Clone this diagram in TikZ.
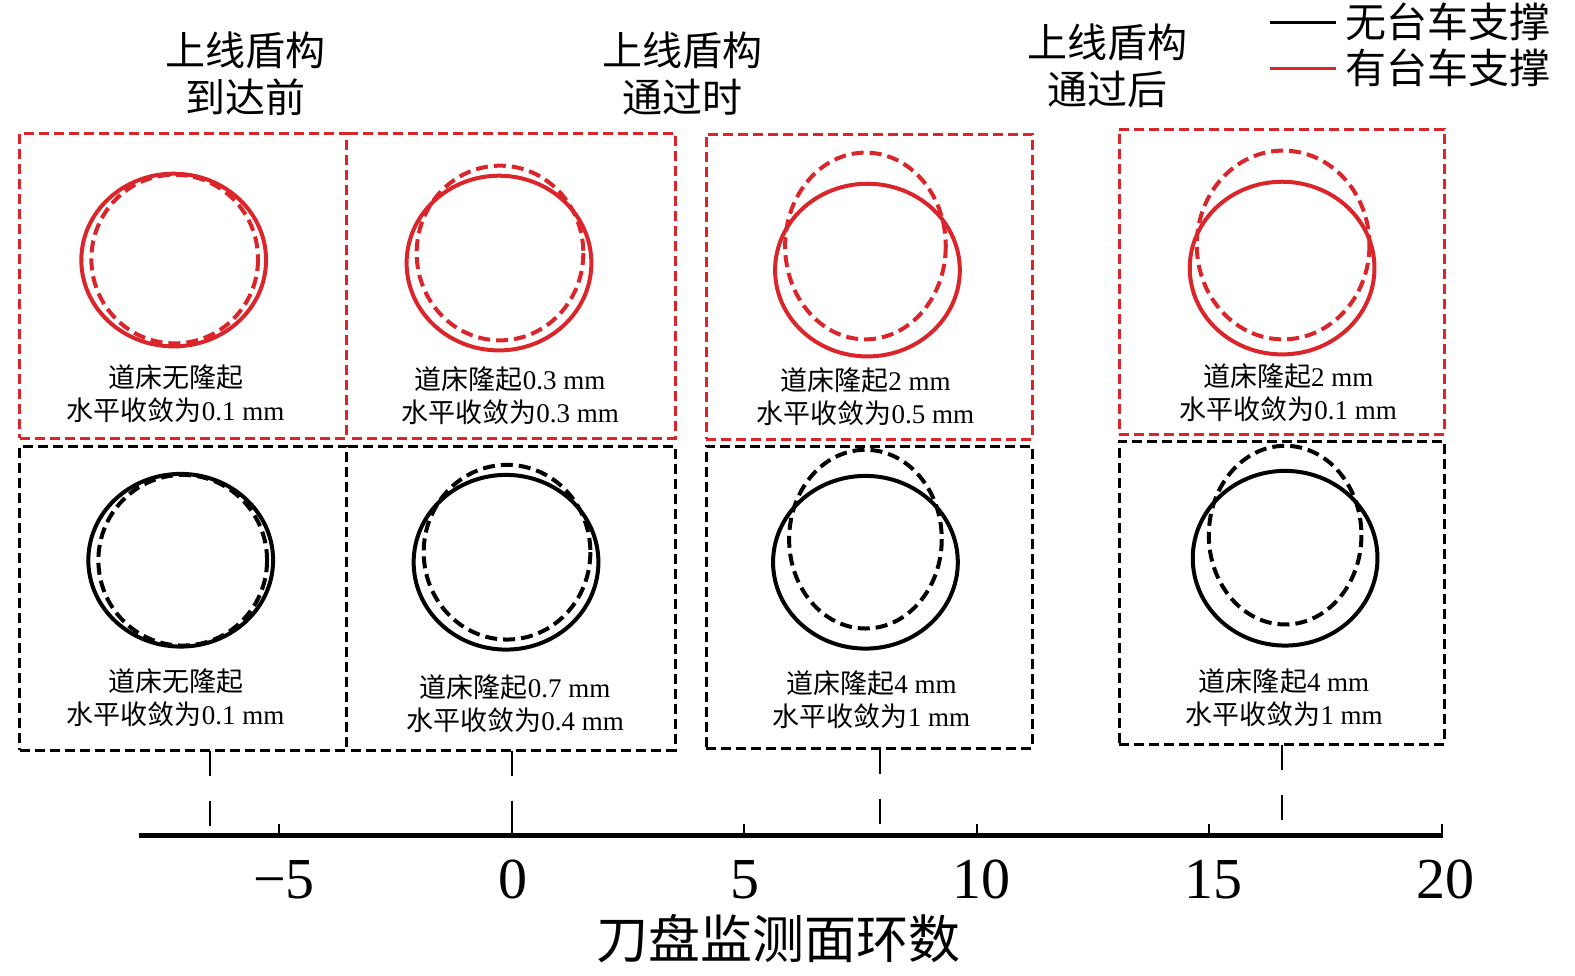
\documentclass[tikz,border=0pt]{standalone}
\usepackage{fontspec}
\setmainfont{Liberation Serif}
\newfontfamily\cjk{Noto Sans CJK SC}
\newcommand\zh[1]{{\cjk #1}}
\definecolor{myred}{RGB}{218,37,42}
\begin{document}
\begin{tikzpicture}[x=0.5bp,y=-0.5bp,
  boxbase/.style={line width=1.5bp, dash pattern=on 5bp off 2.5bp, inner sep=0pt, outer sep=0pt},
  redbox/.style={boxbase, draw=myred},
  blkbox/.style={boxbase, draw=black},
  openbox/.style={boxbase, draw=none},
  solidring/.style={line width=2bp},
  dashring/.style={line width=2bp, dash pattern=on 6bp off 3bp},
  boxlabel/.style={align=center, font=\fontsize{13.5bp}{16.5bp}\selectfont, inner sep=0pt},
  titlelabel/.style={align=center, font=\fontsize{20bp}{23.5bp}\selectfont, inner sep=0pt},
  legendtext/.style={anchor=west, font=\fontsize{20.5bp}{24bp}\selectfont, inner sep=0pt},
  ticklabel/.style={font=\fontsize{29bp}{32bp}\selectfont, inner sep=0pt},
  axistitle/.style={font=\fontsize{26bp}{30bp}\selectfont, inner sep=0pt},
  guide/.style={line width=1bp, dash pattern=on 12.5bp off 12.5bp},
  axisline/.style={line width=2.2bp},
  tickline/.style={line width=1bp}
]
\useasboundingbox (0,0) rectangle (1575,975);
\begin{scope}[scale=1.004]
% titles
\node[titlelabel] (t1) at (245,73) {\zh{上线盾构}\\\zh{到达前}};
\node[titlelabel] (t2) at (680,73) {\zh{上线盾构}\\\zh{通过时}};
\node[titlelabel] (t3) at (1103,66) {\zh{上线盾构}\\\zh{通过后}};

% legend
\coordinate (lk1) at (1265,22); \coordinate (lk2) at (1330,22);
\coordinate (lr1) at (1265,68); \coordinate (lr2) at (1330,68);
\draw[line width=1.5bp, black] (lk1) -- (lk2);
\draw[line width=1.5bp, myred] (lr1) -- (lr2);
\node[legendtext] (lgk) at (1340,22) {\zh{无台车支撑}};
\node[legendtext] (lgr) at (1340,68) {\zh{有台车支撑}};

% red boxes
\node[redbox, minimum width=163.5bp, minimum height=152.5bp] (rb1) at (182.5,284.5) {};
\node[openbox, minimum width=163.5bp, minimum height=152.5bp] (rb2) at (509.5,284.5) {};
\draw[redbox] (rb2.north west) -- (rb2.north east) -- (rb2.south east) -- (rb2.south west);
\node[redbox, minimum width=163bp, minimum height=152.5bp] (rb3) at (866,285.5) {};
\node[redbox, minimum width=162.5bp, minimum height=152.5bp] (rb4) at (1276.5,280.5) {};
% black boxes
\node[blkbox, minimum width=163.5bp, minimum height=152bp] (kb1) at (182.5,596) {};
\node[openbox, minimum width=163.5bp, minimum height=152bp] (kb2) at (509.5,596) {};
\draw[blkbox] (kb2.north west) -- (kb2.north east) -- (kb2.south east) -- (kb2.south west);
\node[blkbox, minimum width=163bp, minimum height=151bp] (kb3) at (866,595) {};
\node[blkbox, minimum width=162.5bp, minimum height=151.5bp] (kb4) at (1276.5,590.5) {};

% red rings
\draw[solidring, myred] (173,259) ellipse [x radius=92, y radius=86];
\draw[dashring, myred] (174,258) ellipse [x radius=83, y radius=84];
\draw[solidring, myred] (497,262) ellipse [x radius=92, y radius=87];
\draw[dashring, myred] (498,252) ellipse [x radius=83, y radius=87];
\draw[solidring, myred] (864,269) ellipse [x radius=92, y radius=86];
\draw[dashring, myred] (862,245) ellipse [x radius=80, y radius=93];
\draw[solidring, myred] (1277,267) ellipse [x radius=92, y radius=86];
\draw[dashring, myred] (1278,244) ellipse [x radius=86, y radius=94];
% black rings
\draw[solidring] (180,558) ellipse [x radius=92, y radius=86];
\draw[dashring] (182,558) ellipse [x radius=84, y radius=85];
\draw[solidring] (504,560) ellipse [x radius=92, y radius=87];
\draw[dashring] (505,550) ellipse [x radius=83, y radius=87];
\draw[solidring] (862,560) ellipse [x radius=92, y radius=86];
\draw[dashring] (862,537) ellipse [x radius=76, y radius=89];
\draw[solidring] (1280,556) ellipse [x radius=92, y radius=87];
\draw[dashring] (1280,533) ellipse [x radius=76, y radius=89];

% box labels
\node[boxlabel] (tr1) at (175,392.5) {\zh{道床无隆起}\\\zh{水平收敛为}0.1 mm};
\node[boxlabel] (tr2) at (508,394) {\zh{道床隆起}0.3 mm\\\zh{水平收敛为}0.3 mm};
\node[boxlabel] (tr3) at (862,395.5) {\zh{道床隆起}2 mm\\\zh{水平收敛为}0.5 mm};
\node[boxlabel] (tr4) at (1283,391.5) {\zh{道床隆起}2 mm\\\zh{水平收敛为}0.1 mm};
\node[boxlabel] (tk1) at (175,694.5) {\zh{道床无隆起}\\\zh{水平收敛为}0.1 mm};
\node[boxlabel] (tk2) at (513,701) {\zh{道床隆起}0.7 mm\\\zh{水平收敛为}0.4 mm};
\node[boxlabel] (tk3) at (868,697) {\zh{道床隆起}4 mm\\\zh{水平收敛为}1 mm};
\node[boxlabel] (tk4) at (1279,694.5) {\zh{道床隆起}4 mm\\\zh{水平收敛为}1 mm};

% axis
\coordinate (axL) at (138,832);
\coordinate (axR) at (1437,832);
\draw[axisline] (axL) -- (axR);
\foreach \tx in {278,510,741,973,1204,1436}
  \draw[tickline] (\tx,832) -- (\tx,821);
\node[ticklabel] (n1) at (283,876) {−5};
\node[ticklabel] (n2) at (511,876) {0};
\node[ticklabel] (n3) at (742,876) {5};
\node[ticklabel] (n4) at (978,876) {10};
\node[ticklabel] (n5) at (1209,876) {15};
\node[ticklabel] (n6) at (1440,876) {20};
\node[axistitle] (xt) at (775,935) {\zh{刀盘监测面环数}};

% guide lines from boxes to axis
\coordinate (m1) at (209,825);
\coordinate (m2) at (510,832);
\coordinate (m3) at (876,822);
\coordinate (m4) at (1277,820);
\draw[guide] (kb1.south -| m1) -- (m1);
\draw[guide] (kb2.south -| m2) -- (m2);
\draw[guide] (kb3.south -| m3) -- (m3);
\draw[guide] (kb4.south -| m4) -- (m4);
\end{scope}
\end{tikzpicture}
\end{document}
